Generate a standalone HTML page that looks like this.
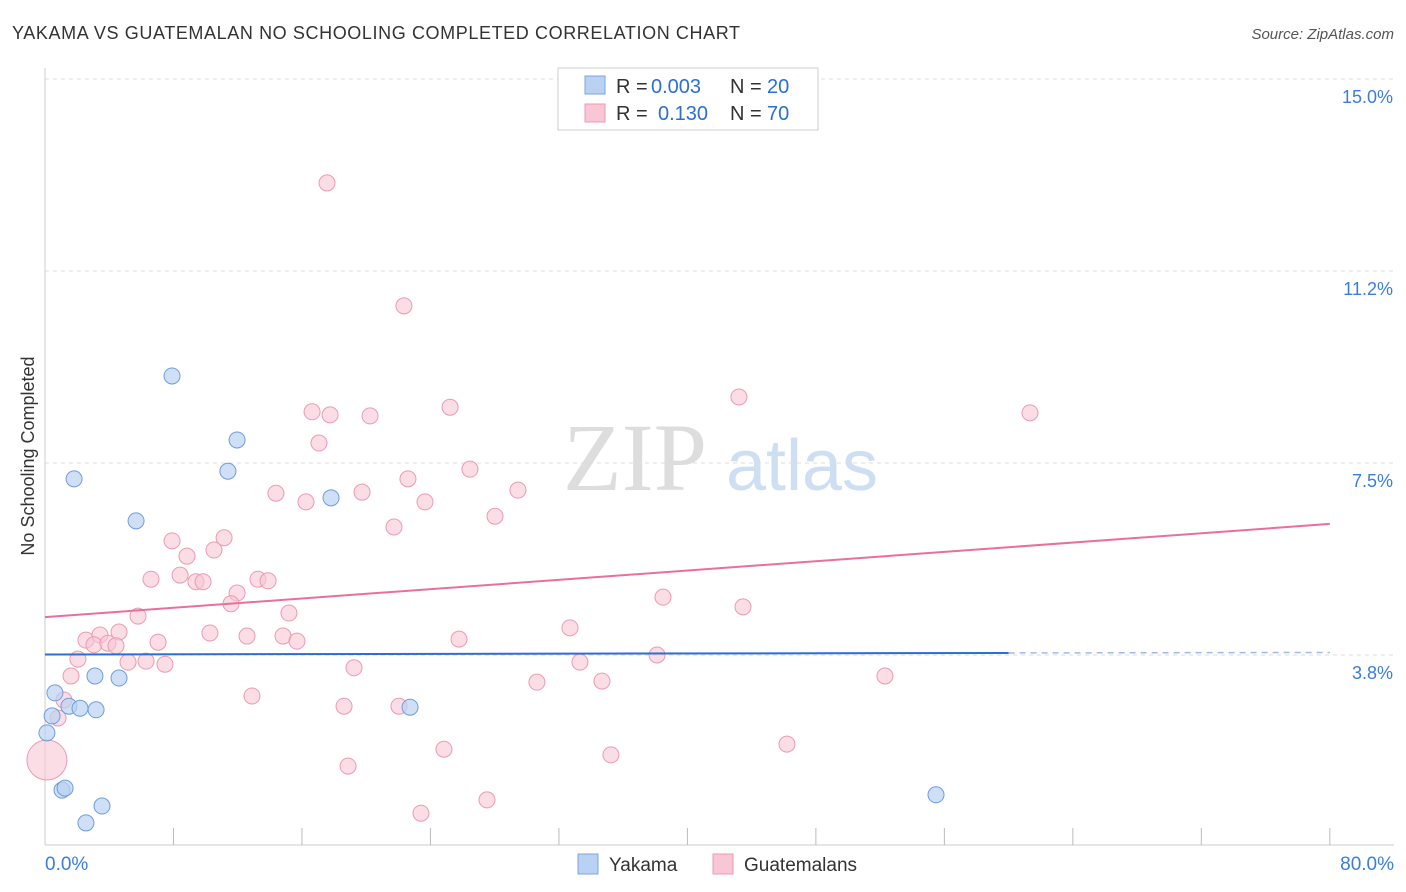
<!DOCTYPE html>
<html><head><meta charset="utf-8"><style>
body{margin:0;background:#fff;font-family:"Liberation Sans",sans-serif;}
#wrap{position:relative;width:1406px;height:892px;overflow:hidden}
</style></head><body>
<div id="wrap">
<svg id="svg" width="1406" height="892" xmlns="http://www.w3.org/2000/svg">
<text x="12" y="39" font-size="18" fill="#333" textLength="728">YAKAMA VS GUATEMALAN NO SCHOOLING COMPLETED CORRELATION CHART</text>
<text x="1394" y="39" font-size="15" fill="#555" text-anchor="end" font-style="italic">Source: ZipAtlas.com</text>
<text x="34" y="456" font-size="18" fill="#333" text-anchor="middle" transform="rotate(-90 34 456)">No Schooling Completed</text>
<g><text x="635" y="490" font-size="96" fill="#ddd" text-anchor="middle" font-family="Liberation Serif,serif">ZIP</text><text x="802" y="490" font-size="72" fill="#cfdff3" text-anchor="middle">atlas</text></g>
<g id="grid"></g><g id="marks"></g>
<g>
<rect x="558" y="68" width="260" height="62" fill="#fff" stroke="#ccc"/>
<rect x="585" y="76" width="20" height="18" fill="#b9d1f2" stroke="#7aa6e2"/>
<rect x="585" y="104" width="20" height="18" fill="#f9c6d5" stroke="#ec9ab3"/>
<text x="616" y="93" font-size="20" fill="#333">R =</text>
<text x="651" y="93" font-size="20" fill="#2a6fd6">0.003</text>
<text x="730" y="93" font-size="20" fill="#333">N =</text>
<text x="767" y="93" font-size="20" fill="#2a6fd6">20</text>
<text x="616" y="120" font-size="20" fill="#333">R =</text>
<text x="658" y="120" font-size="20" fill="#2a6fd6">0.130</text>
<text x="730" y="120" font-size="20" fill="#333">N =</text>
<text x="767" y="120" font-size="20" fill="#2a6fd6">70</text>
</g>
<g>
<rect x="578" y="854" width="20" height="20" fill="#b9d1f2" stroke="#7aa6e2"/>
<text x="609" y="871" font-size="19" fill="#333">Yakama</text>
<rect x="713" y="854" width="20" height="20" fill="#f9c6d5" stroke="#ec9ab3"/>
<text x="744" y="871" font-size="19" fill="#333">Guatemalans</text>
</g>
</svg></div>
<script>
const yTicks=[15.0,11.25,7.5,3.75];
const yTickLabels=["15.0%","11.2%","7.5%","3.8%"];
const xTickVals=[0,8,16,24,32,40,48,56,64,72,80];
const xTickLabels=["0.0%","80.0%"];
const yakX=[7.91,11.96,1.81,11.39,5.67,17.81,0.62,3.11,4.61,1.49,2.18,3.18,0.44,0.12,22.73,1.06,1.25,3.55,2.55,55.48];
const yakY=[9.20,7.95,7.19,7.34,6.37,6.82,3.01,3.34,3.30,2.75,2.71,2.68,2.56,2.23,2.73,1.11,1.15,0.80,0.47,1.02];
const guaX=[17.56,22.35,43.21,61.33,25.22,16.63,17.75,20.24,17.06,26.46,22.60,29.45,14.38,19.74,16.25,23.66,28.02,21.73,7.91,11.15,10.52,8.84,6.60,8.41,9.40,9.84,13.26,13.89,11.96,11.58,38.48,43.46,5.79,15.19,10.27,12.58,14.82,15.69,32.69,25.78,2.55,3.42,4.61,3.05,3.92,4.42,7.04,38.11,2.05,5.17,6.29,7.47,19.24,33.31,1.62,52.30,30.63,34.68,12.89,1.18,0.81,18.62,22.04,24.84,46.20,35.24,18.87,27.52,23.41,0.12];
const guaY=[12.97,10.57,8.79,8.48,8.59,8.50,8.44,8.42,7.89,7.38,7.19,6.97,6.91,6.93,6.74,6.74,6.46,6.25,5.98,6.04,5.80,5.68,5.23,5.31,5.18,5.18,5.23,5.20,4.96,4.75,4.88,4.69,4.51,4.57,4.18,4.12,4.12,4.02,4.28,4.06,4.04,4.14,4.20,3.95,3.98,3.93,4.00,3.75,3.67,3.61,3.63,3.57,3.50,3.61,3.34,3.34,3.22,3.24,2.95,2.87,2.52,2.75,2.75,1.91,2.01,1.80,1.58,0.92,0.66,1.70];
const yakTrend=[3.76,3.80];
const guaTrend=[4.49,6.31];
const X=v=>45+v*16.06, Y=v=>847-v*51.2;
const NS="http://www.w3.org/2000/svg";
function mk(t,a,p){const e=document.createElementNS(NS,t);for(const k in a)e.setAttribute(k,a[k]);p.appendChild(e);return e;}
const g=document.getElementById('grid'), m=document.getElementById('marks');
yTicks.forEach((v,i)=>{
 const l=mk('line',{x1:45,x2:1394,y1:Y(v),y2:Y(v),stroke:'#ddd','stroke-dasharray':'4,4'},g);
 
 
 const t=mk('text',{x:1393,y:Y(v)+24,'font-size':18,fill:'#3b7ddd','text-anchor':'end'},g);
 t.textContent=yTickLabels[i];
 
 
});
const ax=mk('line',{x1:45,x2:45,y1:68,y2:845,stroke:'#ccc'},g);


const bx=mk('line',{x1:45,x2:1394,y1:845,y2:845,stroke:'#ccc'},g);


xTickVals.forEach(v=>{if(v===0)return;
 const l=mk('line',{x1:X(v),x2:X(v),y1:828,y2:845,stroke:'#bbb'},g);
 
 
});
[[0,'start',45],[80,'end',1394]].forEach((d,i)=>{
 const t=mk('text',{x:d[2],y:870,'font-size':19,fill:'#3b7ddd','text-anchor':d[1]},g);
 t.textContent=xTickLabels[i];
 
 
});
guaX.forEach((x,i)=>{
 const big=i===guaX.length-1;
 const c=mk('circle',{cx:X(x),cy:Y(guaY[i]),r:big?20:8,fill:'#f9c6d5','fill-opacity':0.6,stroke:'#ec9ab3','stroke-width':1},m);
 
 
});
yakX.forEach((x,i)=>{
 const c=mk('circle',{cx:X(x),cy:Y(yakY[i]),r:8,fill:'#b9d1f2','fill-opacity':0.7,stroke:'#6f9ddd','stroke-width':1},m);
 
 
});
const yAt=t=>yakTrend[0]+(yakTrend[1]-yakTrend[0])*t/80;
const l1=mk('line',{x1:X(0),y1:Y(yakTrend[0]),x2:X(60),y2:Y(yAt(60)),stroke:'#2a6fd6','stroke-width':2},m);


const l2=mk('line',{x1:X(60),y1:Y(yAt(60)),x2:X(80),y2:Y(yakTrend[1]),stroke:'#9dbbe6','stroke-width':1.5,'stroke-dasharray':'6,5'},m);


const l3=mk('line',{x1:X(0),y1:Y(guaTrend[0]),x2:X(80),y2:Y(guaTrend[1]),stroke:'#e8709a','stroke-width':2},m);


</script>
</body></html>
